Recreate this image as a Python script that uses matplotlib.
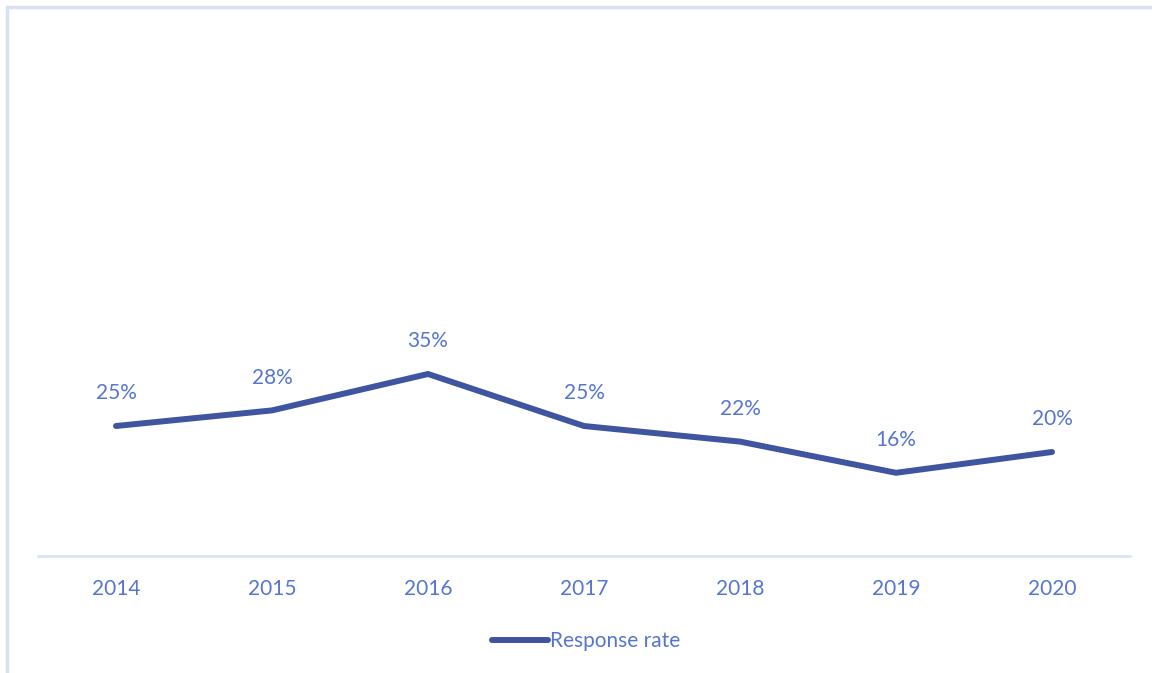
import matplotlib
matplotlib.use("Agg")
import matplotlib.pyplot as plt
from matplotlib.patches import Rectangle
from matplotlib.lines import Line2D

years = ["2014", "2015", "2016", "2017", "2018", "2019", "2020"]
response_rate = [0.25, 0.28, 0.35, 0.25, 0.22, 0.16, 0.20]
series_name = "Response rate"

line_color = "#3F55A0"
text_color = "#5575D1"
axis_color = "#D9E1F5"

plt.rcParams['font.family'] = ['Lato', 'DejaVu Sans']

W, H = 1152, 673
fig = plt.figure(figsize=(W / 100, H / 100), dpi=100)
fig.patches.append(Rectangle((7 / W, -0.1), 1.2, (673 - 7) / H + 0.1, transform=fig.transFigure,
                             fill=False, edgecolor=axis_color, linewidth=2.5))

ax = fig.add_axes([38 / W, (673 - 556) / H, 1092 / W, 520 / H])
x = list(range(len(years)))
ax.plot(x, response_rate, color=line_color, linewidth=4.3, solid_capstyle='round',
        solid_joinstyle='miter', label=series_name)
for xi, v in zip(x, response_rate):
    ax.annotate(f"{round(v * 100)}%", (xi, v), xytext=(0, 23.5), textcoords='offset points',
                ha='center', va='center', fontsize=15, color=text_color)

ax.set_xlim(-0.5, len(years) - 0.5)
ax.set_ylim(0, 1)
ax.set_xticks(x)
ax.set_xticklabels(years, fontsize=15, color=text_color)
ax.tick_params(axis='x', length=0, pad=16.5)
ax.set_yticks([])
for s in ['top', 'right', 'left']:
    ax.spines[s].set_visible(False)
ax.spines['bottom'].set_color(axis_color)
ax.spines['bottom'].set_linewidth(1.8)
ax.patch.set_alpha(0)

handle = Line2D([], [], color=line_color, linewidth=4.3, solid_capstyle='round')
leg = fig.legend([handle], [series_name], loc='center', bbox_to_anchor=(586 / W, 1 - 641 / H),
                 frameon=False, fontsize=15, handlelength=2.7, handletextpad=0.1,
                 labelcolor=text_color)

fig.savefig("out.png", dpi=100, facecolor="white")
